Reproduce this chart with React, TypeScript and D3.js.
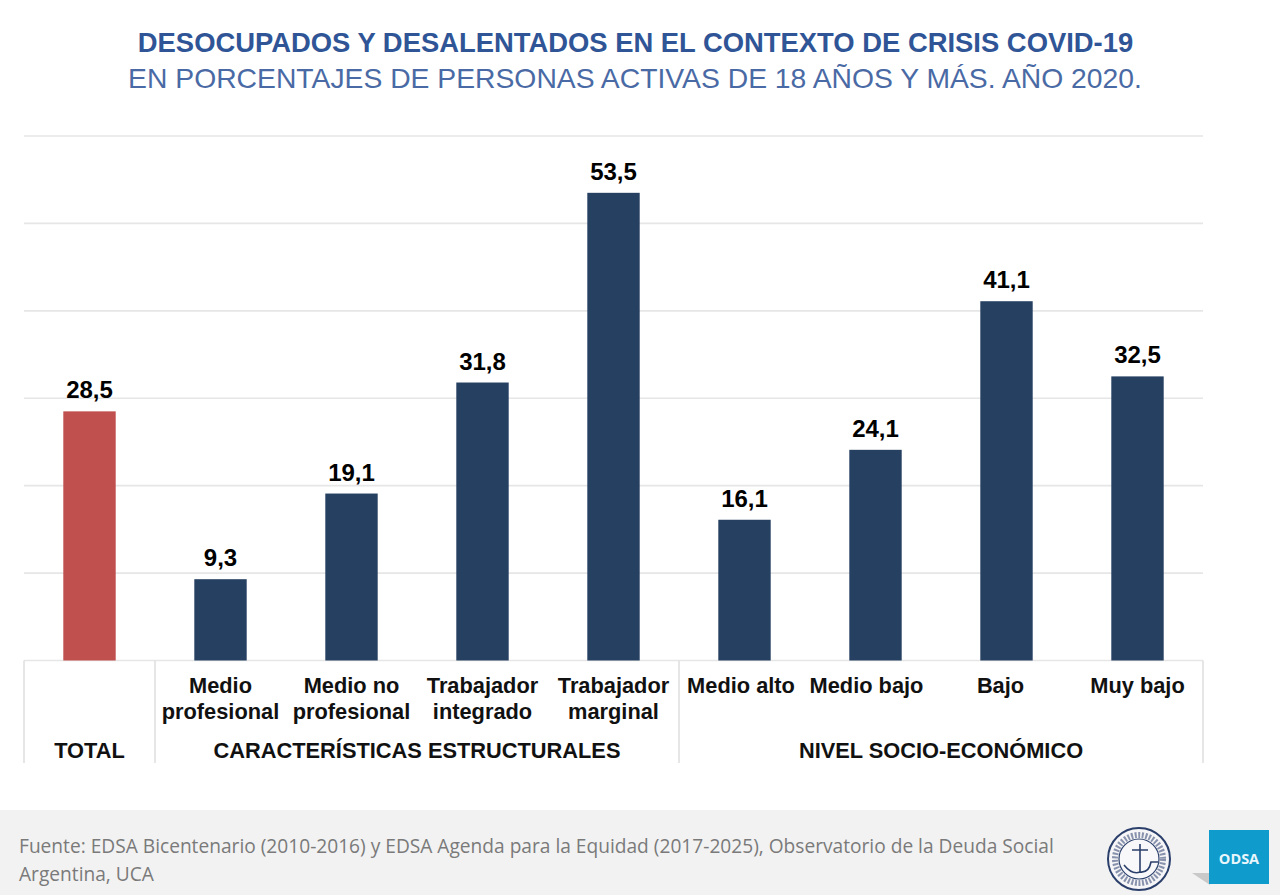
import { scaleBand, scaleLinear } from "d3";

const categories = ["total", "mprof", "mnoprof", "tint", "tmarg", "malto", "mbajo", "bajo", "mubajo"];
const values = [28.5, 9.3, 19.1, 31.8, 53.5, 16.1, 24.1, 41.1, 32.5];
const valueLabels = ["28,5", "9,3", "19,1", "31,8", "53,5", "16,1", "24,1", "41,1", "32,5"];
const categoryLabels = [
    [],
    ["Medio", "profesional"],
    ["Medio no", "profesional"],
    ["Trabajador", "integrado"],
    ["Trabajador", "marginal"],
    ["Medio alto"],
    ["Medio bajo"],
    ["Bajo"],
    ["Muy bajo"]
];
const groups = [
    { label: "TOTAL", first: 0, last: 0 },
    { label: "CARACTERÍSTICAS ESTRUCTURALES", first: 1, last: 4 },
    { label: "NIVEL SOCIO-ECONÓMICO", first: 5, last: 8 }
];
const gridTicks = [0, 10, 20, 30, 40, 50, 60];

const arial = "'Liberation Sans', Arial, sans-serif";
// the category labels in the original table are not quite centred under the bars
const labelShift = [0, 0, 0, 0, 0, -3.5, -9, -6, 0];

function Logos() {
    return (
        <g>
            <circle cx={1139} cy={859} r={31} fill="#f6f6f8" stroke="#2b3f6b" strokeWidth={2} />
            <circle cx={1139} cy={859} r={24} fill="none" stroke="#5a688c" strokeWidth={6} strokeDasharray="2 1.6" opacity={0.7} />
            <circle cx={1139} cy={859} r={20} fill="#f8f8fa" stroke="#2b3f6b" strokeWidth={1.2} />
            <path d="M1140 844V872M1132 850H1148M1124 865Q1132 875 1140 872Q1149 873 1151 862H1158" fill="none" stroke="#2b3f6b" strokeWidth={1.6} />
            <path d="M1192 873L1210 873L1210 885Z" fill="#c9c9c9" />
            <rect x={1209} y={830} width={60} height={54} fill="#0f9bcb" />
            <text x={1239} y={864} textAnchor="middle" fontFamily="'Open Sans', sans-serif" fontWeight={700} fontSize={14.5} fill="#e9f6fb">ODSA</text>
        </g>
    );
}

export default function App() {
    const x = scaleBand<string>()
        .domain(categories)
        .range([24, 1203])
        .paddingInner(0.6)
        .paddingOuter(0.3);
    const y = scaleLinear().domain([0, 60]).range([660.5, 136]);
    const edge = (i: number) => 24 + i * x.step();

    return (
        <svg width={1280} height={895} style={{ position: "absolute", left: 0, top: 0, background: "#fff" }}>
            <text x={635.5} y={52} textAnchor="middle" fontFamily={arial} fontWeight={700} fontSize={27.4} fill="#2f5597">
                DESOCUPADOS Y DESALENTADOS EN EL CONTEXTO DE CRISIS COVID-19
            </text>
            <text x={635} y={88} textAnchor="middle" fontFamily={arial} fontSize={28.3} fill="#4a6aa5">
                EN PORCENTAJES DE PERSONAS ACTIVAS DE 18 AÑOS Y MÁS. AÑO 2020.
            </text>

            {gridTicks.map(t => (
                <line key={t} x1={24} x2={1203} y1={y(t)} y2={y(t)} stroke="#e6e6e6" strokeWidth={1.6} />
            ))}
            {[0, 1, 5, 9].map(i => (
                <line key={i} x1={edge(i)} x2={edge(i)} y1={y(0)} y2={763} stroke="#e0e0e0" strokeWidth={1.6} />
            ))}

            {categories.map((c, i) => (
                <g key={c}>
                    <rect
                        x={x(c)}
                        y={y(values[i])}
                        width={x.bandwidth()}
                        height={y(0) - y(values[i])}
                        fill={i === 0 ? "#c0504d" : "#254061"}
                    />
                    <text
                        x={(x(c) ?? 0) + x.bandwidth() / 2}
                        y={y(values[i]) - 13}
                        textAnchor="middle"
                        fontFamily={arial}
                        fontWeight={700}
                        fontSize={24}
                        fill="#000"
                    >
                        {valueLabels[i]}
                    </text>
                    {categoryLabels[i].map((line, j) => (
                        <text
                            key={line}
                            x={(x(c) ?? 0) + x.bandwidth() / 2 + labelShift[i]}
                            y={693 + j * 26}
                            textAnchor="middle"
                            fontFamily={arial}
                            fontWeight={700}
                            fontSize={21.8}
                            fill="#111"
                        >
                            {line}
                        </text>
                    ))}
                </g>
            ))}

            {groups.map(g => (
                <text
                    key={g.label}
                    x={(edge(g.first) + edge(g.last + 1)) / 2}
                    y={758}
                    textAnchor="middle"
                    fontFamily={arial}
                    fontWeight={700}
                    fontSize={21.8}
                    fill="#111"
                >
                    {g.label}
                </text>
            ))}

            <rect x={0} y={810} width={1280} height={85} fill="#f2f2f2" />
            <text fontFamily="'Open Sans', sans-serif" fontSize={19.15} fill="#7a7a7a">
                <tspan x={19} y={853}>Fuente: EDSA Bicentenario (2010-2016) y EDSA Agenda para la Equidad (2017-2025), Observatorio de la Deuda Social</tspan>
                <tspan x={19} y={881}>Argentina, UCA</tspan>
            </text>
            <Logos />
        </svg>
    );
}
